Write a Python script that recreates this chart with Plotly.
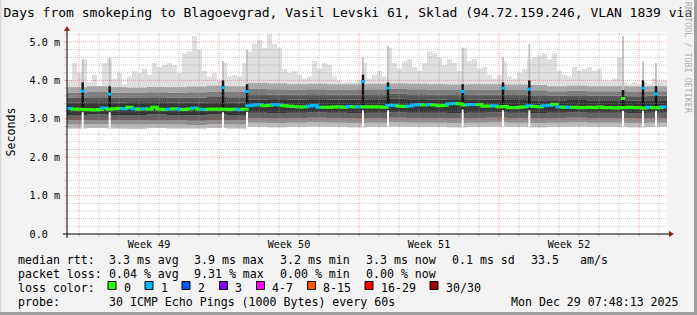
import plotly.graph_objects as go
import pandas as pd

# ---------------- data (values in ms) ----------------
START = "2025-11-29 09:36"
END = "2025-12-29 09:36"
STEP_HOURS = 6

median_ms = [
    3.27, 3.25, 3.25, 3.24, 3.24, 3.23, 3.24, 3.28, 3.25, 3.26,
    3.27, 3.26, 3.30, 3.26, 3.25, 3.26, 3.25, 3.30, 3.25, 3.24,
    3.25, 3.26, 3.25, 3.24, 3.26, 3.28, 3.25, 3.24, 3.25, 3.25,
    3.25, 3.25, 3.24, 3.25, 3.24, 3.25, 3.34, 3.36, 3.37, 3.34,
    3.35, 3.37, 3.36, 3.34, 3.33, 3.32, 3.31, 3.31, 3.33, 3.35,
    3.30, 3.30, 3.30, 3.31, 3.31, 3.30, 3.32, 3.31, 3.31, 3.31,
    3.31, 3.31, 3.31, 3.30, 3.35, 3.35, 3.33, 3.32, 3.33, 3.36,
    3.37, 3.36, 3.37, 3.36, 3.34, 3.35, 3.39, 3.40, 3.39, 3.36,
    3.37, 3.37, 3.37, 3.33, 3.33, 3.34, 3.31, 3.32, 3.29, 3.29,
    3.30, 3.31, 3.34, 3.32, 3.31, 3.34, 3.35, 3.38, 3.31, 3.30,
    3.30, 3.30, 3.29, 3.29, 3.30, 3.29, 3.31, 3.29, 3.29, 3.28,
    3.29, 3.29, 3.30, 3.29, 3.29, 3.28, 3.30, 3.29, 3.29, 3.31,
]
median_loss = [
    1, 0, 0, 0, 0, 0, 0, 1, 0, 0,
    0, 1, 0, 1, 0, 1, 0, 0, 0, 0,
    1, 0, 1, 0, 0, 1, 0, 1, 0, 0,
    0, 0, 0, 0, 1, 0, 1, 1, 1, 0,
    0, 1, 1, 0, 0, 0, 0, 0, 1, 1,
    1, 0, 0, 0, 0, 0, 1, 0, 1, 0,
    0, 0, 0, 0, 1, 1, 0, 0, 1, 1,
    1, 0, 1, 0, 0, 0, 1, 1, 0, 0,
    1, 1, 0, 0, 0, 1, 0, 0, 0, 0,
    0, 0, 1, 0, 0, 1, 1, 0, 1, 0,
    1, 0, 0, 0, 0, 0, 0, 0, 0, 0,
    0, 0, 0, 0, 0, 0, 1, 0, 0, 1,
]
max_ms = [
    4.01, 4.45, 4.20, 4.55, 3.95, 4.15, 3.85, 4.45, 4.55, 4.05,
    4.20, 3.90, 4.10, 4.25, 4.20, 4.30, 4.15, 4.45, 4.35, 4.40,
    4.45, 4.40, 4.20, 4.70, 4.75, 5.15, 4.80, 4.25, 4.10, 4.20,
    4.00, 4.45, 4.10, 4.15, 4.10, 4.45, 4.75, 4.95, 5.05, 4.85,
    5.20, 4.95, 4.85, 4.30, 4.20, 4.25, 4.15, 4.05, 4.10, 4.50,
    4.30, 4.45, 4.40, 4.10, 4.00, 3.95, 3.95, 3.95, 4.00, 4.45,
    4.05, 4.15, 4.25, 4.10, 4.85, 4.45, 4.30, 4.50, 4.55, 4.35,
    4.25, 4.45, 4.75, 4.70, 4.60, 4.40, 4.55, 4.45, 4.25, 4.85,
    4.50, 4.55, 4.30, 4.35, 4.15, 4.05, 4.15, 4.50, 4.10, 4.05,
    4.20, 4.30, 4.55, 4.60, 4.65, 4.70, 4.55, 4.70, 4.25, 4.15,
    4.10, 4.35, 4.25, 4.30, 4.35, 4.25, 4.30, 4.00, 4.00, 4.05,
    4.60, 3.95, 3.90, 3.95, 3.90, 3.95, 3.90, 4.05, 4.00, 4.00,
]

# daily smoke band boundaries (ms), one value per day from START
smoke_lo = [2.75, 2.76, 2.75, 2.74, 2.76, 2.75, 2.75, 2.76, 2.75,
            2.79, 2.78, 2.79, 2.80, 2.79, 2.78, 2.79, 2.80, 2.79, 2.79, 2.78,
            2.79, 2.80, 2.79, 2.78, 2.79, 2.80, 2.79, 2.79, 2.78, 2.79, 2.79]
smoke_b1 = [2.85, 2.86, 2.85, 2.85, 2.86, 2.85, 2.84, 2.86, 2.85,
            2.90, 2.89, 2.90, 2.91, 2.90, 2.89, 2.90, 2.91, 2.90, 2.90, 2.89,
            2.90, 2.91, 2.90, 2.89, 2.90, 2.91, 2.90, 2.90, 2.89, 2.90, 2.90]
smoke_b2 = [2.96, 2.97, 2.96, 2.96, 2.97, 2.96, 2.95, 2.97, 2.96,
            3.02, 3.01, 3.02, 3.03, 3.02, 3.01, 3.02, 3.03, 3.02, 3.02, 3.01,
            3.02, 3.03, 3.02, 3.01, 3.02, 3.03, 3.02, 3.02, 3.01, 3.02, 3.02]
smoke_b3 = [3.10, 3.11, 3.10, 3.10, 3.11, 3.10, 3.09, 3.11, 3.10,
            3.16, 3.15, 3.16, 3.17, 3.16, 3.15, 3.16, 3.17, 3.16, 3.16, 3.15,
            3.16, 3.17, 3.16, 3.15, 3.16, 3.17, 3.16, 3.16, 3.15, 3.16, 3.16]
smoke_a1 = [3.42, 3.43, 3.42, 3.41, 3.43, 3.42, 3.42, 3.43, 3.42,
            3.50, 3.49, 3.50, 3.51, 3.50, 3.50, 3.51, 3.52, 3.51, 3.50, 3.49,
            3.50, 3.50, 3.49, 3.48, 3.48, 3.49, 3.48, 3.48, 3.47, 3.48, 3.48]
smoke_a2 = [3.55, 3.56, 3.55, 3.54, 3.56, 3.55, 3.55, 3.57, 3.56,
            3.64, 3.63, 3.63, 3.64, 3.63, 3.63, 3.64, 3.65, 3.64, 3.63, 3.62,
            3.63, 3.63, 3.62, 3.61, 3.60, 3.61, 3.60, 3.60, 3.59, 3.60, 3.60]
smoke_a3 = [3.68, 3.70, 3.68, 3.67, 3.69, 3.68, 3.69, 3.71, 3.70,
            3.78, 3.77, 3.76, 3.77, 3.76, 3.76, 3.77, 3.78, 3.77, 3.76, 3.75,
            3.76, 3.76, 3.75, 3.74, 3.72, 3.73, 3.72, 3.72, 3.71, 3.72, 3.72]
smoke_a4 = [3.82, 3.85, 3.82, 3.81, 3.83, 3.82, 3.84, 3.86, 3.85,
            3.93, 3.92, 3.90, 3.91, 3.90, 3.90, 3.91, 3.92, 3.91, 3.90, 3.89,
            3.90, 3.90, 3.89, 3.88, 3.85, 3.86, 3.85, 3.85, 3.84, 3.85, 3.85]

# short bursts (dark spikes)
spike_time = ["2025-11-30 04:26", "2025-12-01 12:50", "2025-12-07 04:48",
              "2025-12-08 09:36", "2025-12-14 04:48", "2025-12-15 10:48",
              "2025-12-19 04:26", "2025-12-21 04:48", "2025-12-22 12:22",
              "2025-12-27 04:48", "2025-12-28 04:48", "2025-12-28 20:24"]
spike_base = [3.25, 3.25, 3.25, 3.25, 3.31, 3.31, 3.37, 3.31, 3.31, 3.29, 3.29, 3.29]
spike_median = [3.72, 3.64, 3.81, 3.71, 3.97, 3.80, 3.71, 3.80, 3.77, 3.53, 3.80, 3.65]
spike_loss = [1, 1, 1, 1, 1, 1, 1, 1, 1, 0, 1, 1]
spike_black_top = [3.95, 3.85, 4.00, 3.90, 4.15, 3.95, 3.90, 3.95, 4.00, 3.75, 4.00, 3.85]
spike_gray_top = [4.55, 4.60, 4.50, 4.80, 4.60, 4.90, 4.85, 4.60, 4.95, 5.15, 4.50, 4.45]
spike_gap_lo = [2.75, 2.75, 2.75, 2.76, 2.79, 2.79, 2.79, 2.79, 2.79, 2.79, 2.79, 2.79]
spike_gap_hi = [3.17, 3.17, 3.17, 3.18, 3.22, 3.22, 3.24, 3.22, 3.22, 3.21, 3.21, 3.21]

y_tick_vals = [0, 1, 2, 3, 4, 5]
y_tick_text = ["0.0\u00a0\u00a0", "1.0 m", "2.0 m", "3.0 m", "4.0 m", "5.0 m"]
week_labels = ["Week 49", "Week 50", "Week 51", "Week 52"]
week_mid = ["2025-12-03 12:00", "2025-12-10 12:00", "2025-12-17 12:00", "2025-12-24 12:00"]
week_start = ["2025-11-30", "2025-12-07", "2025-12-14", "2025-12-21", "2025-12-28"]

loss_names = ["0", "1", "2", "3", "4-7", "8-15", "16-29", "30/30"]
loss_colors = ["#26ff00", "#00b8ff", "#0059ff", "#7e00ff", "#ff00ff", "#ff5500", "#ff0000", "#a00000"]

title_text = "30 Days from smokeping to Blagoevgrad, Vasil Levski 61, Sklad (94.72.159.246, VLAN 1839 via"
rtt_row = ["3.3 ms avg", "3.9 ms max", "3.2 ms min", "3.3 ms now", "0.1 ms sd", "33.5", "am/s"]
loss_row = ["0.04 % avg", "9.31 % max", "0.00 % min", "0.00 % now"]
probe_text = "30 ICMP Echo Pings (1000 Bytes) every 60s"
stamp_text = "Mon Dec 29 07:48:13 2025"

# ---------------- layout geometry (pixels) ----------------
W, H = 697, 315
PL, PR, PT, PB = 67, 667, 32, 234
Y_MAX = 5.26
MONO = "DejaVu Sans Mono"
GRID_MINOR = "rgba(150,150,150,0.5)"
GRID_MAJOR = "rgba(230,40,40,0.42)"
ARROW = "#9a1a1a"


def fx(px):
    return (px - PL) / (PR - PL)


def fy(py):
    return (PB - py) / (PB - PT)


start = pd.Timestamp(START)
end = pd.Timestamp(END)
step = pd.Timedelta(hours=STEP_HOURS)
n = len(median_ms)
x_edges = [start + step * i for i in range(n + 1)]
x_mid = [start + step * (i + 0.5) for i in range(n)]
day_x = [start + pd.Timedelta(days=d) for d in range(len(smoke_lo))]

fig = go.Figure()


def band(y, fill=None, color=None):
    kw = dict(x=day_x, y=y, mode="lines", line=dict(width=0, shape="hv"),
              hoverinfo="skip", showlegend=False)
    if fill:
        kw.update(fill="tonexty", fillcolor=color)
    fig.add_trace(go.Scatter(**kw))


# light grey envelope of the slowest pings
band(smoke_lo)
fig.add_trace(go.Scatter(x=x_edges, y=max_ms + [max_ms[-1]], mode="lines",
                         line=dict(width=0, shape="hv"), fill="tonexty",
                         fillcolor="#dfdfdf", hoverinfo="skip", showlegend=False))
# smoke gradient
band(smoke_lo)
band(smoke_b1, True, "#bdbdbd")
band(smoke_b2, True, "#909090")
band(smoke_b3, True, "#646464")
band(smoke_a1, True, "#353535")
band(smoke_a2, True, "#555555")
band(smoke_a3, True, "#7c7c7c")
band(smoke_a4, True, "#a8a8a8")


def segments(lo, hi):
    xs, ys = [], []
    for t, a, b in zip(spike_time, lo, hi):
        xs += [t, t, None]
        ys += [a, b, None]
    return xs, ys


sx, sy = segments(spike_black_top, spike_gray_top)
fig.add_trace(go.Scatter(x=sx, y=sy, mode="lines", line=dict(color="#c4c4c4", width=2),
                         hoverinfo="skip", showlegend=False))
sx, sy = segments(spike_base, spike_black_top)
fig.add_trace(go.Scatter(x=sx, y=sy, mode="lines", line=dict(color="#141414", width=2.5),
                         hoverinfo="skip", showlegend=False))
sx, sy = segments(spike_gap_lo, spike_gap_hi)
fig.add_trace(go.Scatter(x=sx, y=sy, mode="lines", line=dict(color="#ffffff", width=2),
                         hoverinfo="skip", showlegend=False))

# median rtt coloured by loss
fig.add_trace(go.Scatter(
    x=x_mid, y=median_ms, mode="markers", hoverinfo="skip", showlegend=False,
    marker=dict(symbol="line-ew", size=6,
                line=dict(width=3, color=[loss_colors[v] for v in median_loss]))))
fig.add_trace(go.Scatter(
    x=spike_time, y=spike_median, mode="markers", hoverinfo="skip", showlegend=False,
    marker=dict(symbol="line-ew", size=3,
                line=dict(width=3, color=[loss_colors[v] for v in spike_loss]))))

shapes = []
# grid (drawn above the smoke, like rrdtool)
days = pd.date_range(pd.Timestamp(week_start[0]) - pd.Timedelta(days=7), end, freq="D")
week_set = set(pd.Timestamp(w) for w in week_start)
for d in days:
    if d <= start or d >= end:
        continue
    major = d in week_set
    shapes.append(dict(type="line", xref="x", yref="paper", x0=d, x1=d, y0=0, y1=1,
                       layer="above", line=dict(color=GRID_MAJOR if major else GRID_MINOR,
                                                width=1, dash="1px,1px")))
    shapes.append(dict(type="line", xref="x", yref="paper", x0=d, x1=d, y0=fy(PB), y1=fy(PB + 2.5),
                       layer="above", line=dict(color=GRID_MAJOR if major else GRID_MINOR, width=1)))
k = 1
while k * 0.2 < Y_MAX:
    v = k * 0.2
    major = k % 5 == 0
    shapes.append(dict(type="line", xref="paper", yref="y", x0=0, x1=1, y0=v, y1=v,
                       layer="above", line=dict(color=GRID_MAJOR if major else GRID_MINOR,
                                                width=1, dash="1px,1px")))
    shapes.append(dict(type="line", xref="paper", yref="y", x0=fx(PL - 2.5), x1=fx(PL), y0=v, y1=v,
                       layer="above", line=dict(color=GRID_MAJOR if major else GRID_MINOR, width=1)))
    k += 1

# axes with arrows
shapes.append(dict(type="line", xref="paper", yref="paper", x0=fx(63), x1=fx(669), y0=fy(PB), y1=fy(PB),
                   layer="above", line=dict(color="#000000", width=1)))
shapes.append(dict(type="line", xref="paper", yref="paper", x0=fx(PL), x1=fx(PL), y0=fy(238), y1=fy(31),
                   layer="above", line=dict(color="#000000", width=1)))
shapes.append(dict(type="path", xref="paper", yref="paper", layer="above", line=dict(width=0),
                   fillcolor=ARROW,
                   path=f"M {fx(669)},{fy(PB - 3)} L {fx(674)},{fy(PB)} L {fx(669)},{fy(PB + 3)} Z"))
shapes.append(dict(type="path", xref="paper", yref="paper", layer="above", line=dict(width=0),
                   fillcolor=ARROW,
                   path=f"M {fx(PL - 3)},{fy(31)} L {fx(PL)},{fy(26)} L {fx(PL + 3)},{fy(31)} Z"))

# frame
shapes.append(dict(type="rect", xref="paper", yref="paper", x0=fx(694), x1=fx(697), y0=fy(0), y1=fy(315),
                   line=dict(width=0), fillcolor="#9e9e9e"))
shapes.append(dict(type="rect", xref="paper", yref="paper", x0=fx(0), x1=fx(697), y0=fy(312), y1=fy(315),
                   line=dict(width=0), fillcolor="#9e9e9e"))
shapes.append(dict(type="rect", xref="paper", yref="paper", x0=fx(0), x1=fx(1.5), y0=fy(0), y1=fy(312),
                   line=dict(width=0), fillcolor="#dadada"))

# legend swatches
sw_x = [108, 145, 182, 219.5, 256.5, 307.5, 365, 430]
lab_x = [123, 160, 197, 234, 271, 322, 380, 445]
for c, x0 in zip(loss_colors, sw_x):
    shapes.append(dict(type="rect", xref="paper", yref="paper", x0=fx(x0), x1=fx(x0 + 8),
                       y0=fy(281.5), y1=fy(289.5), fillcolor=c, line=dict(color="#000000", width=1)))

ann = []


def text(px, py, s, size=11.6, anchor="left", color="#000000", angle=0):
    ann.append(dict(x=fx(px), y=fy(py), xref="paper", yref="paper", text=s, showarrow=False,
                    xanchor=anchor, yanchor="middle", textangle=angle,
                    font=dict(family=MONO, size=size, color=color)))


text(-22, 12.5, title_text, size=13)
text(688, 58, "RRDTOOL / TOBI OETIKER", size=8.4, anchor="center", color="#b0b0b0", angle=90)
text(10, 132.5, "Seconds", size=11.6, anchor="center", angle=-90)

row_y = [260, 274, 288, 301.5]
text(15.5, row_y[0], "median rtt:")
for s, x0 in zip(rtt_row, [106.5, 192, 278, 364, 450, 529, 578]):
    text(x0, row_y[0], s)
text(15.5, row_y[1], "packet loss:")
for s, x0 in zip(loss_row, [106.5, 192, 278, 364]):
    text(x0, row_y[1], s)
text(15.5, row_y[2], "loss color:")
for s, x0 in zip(loss_names, lab_x):
    text(x0 - 1, row_y[2], s)
text(15.5, row_y[3], "probe:")
text(106.5, row_y[3], probe_text)
text(681, row_y[3], stamp_text, anchor="right")

fig.update_layout(
    width=W, height=H,
    margin=dict(l=PL, r=W - PR, t=PT, b=H - PB, pad=0),
    paper_bgcolor="#f3f3f3", plot_bgcolor="#ffffff",
    shapes=shapes, annotations=ann, showlegend=False,
    xaxis=dict(type="date", range=[start, end], showgrid=False, zeroline=False, showline=False,
               tickmode="array", tickvals=week_mid, ticktext=week_labels, ticks="",
               tickfont=dict(family=MONO, size=10.1, color="#000000"), ticklabelstandoff=3),
    yaxis=dict(range=[0, Y_MAX], showgrid=False, zeroline=False, showline=False,
               tickmode="array", tickvals=y_tick_vals, ticktext=y_tick_text, ticks="",
               tickfont=dict(family=MONO, size=10.1, color="#000000"), ticklabelstandoff=6),
)

fig.write_html("out.html")
